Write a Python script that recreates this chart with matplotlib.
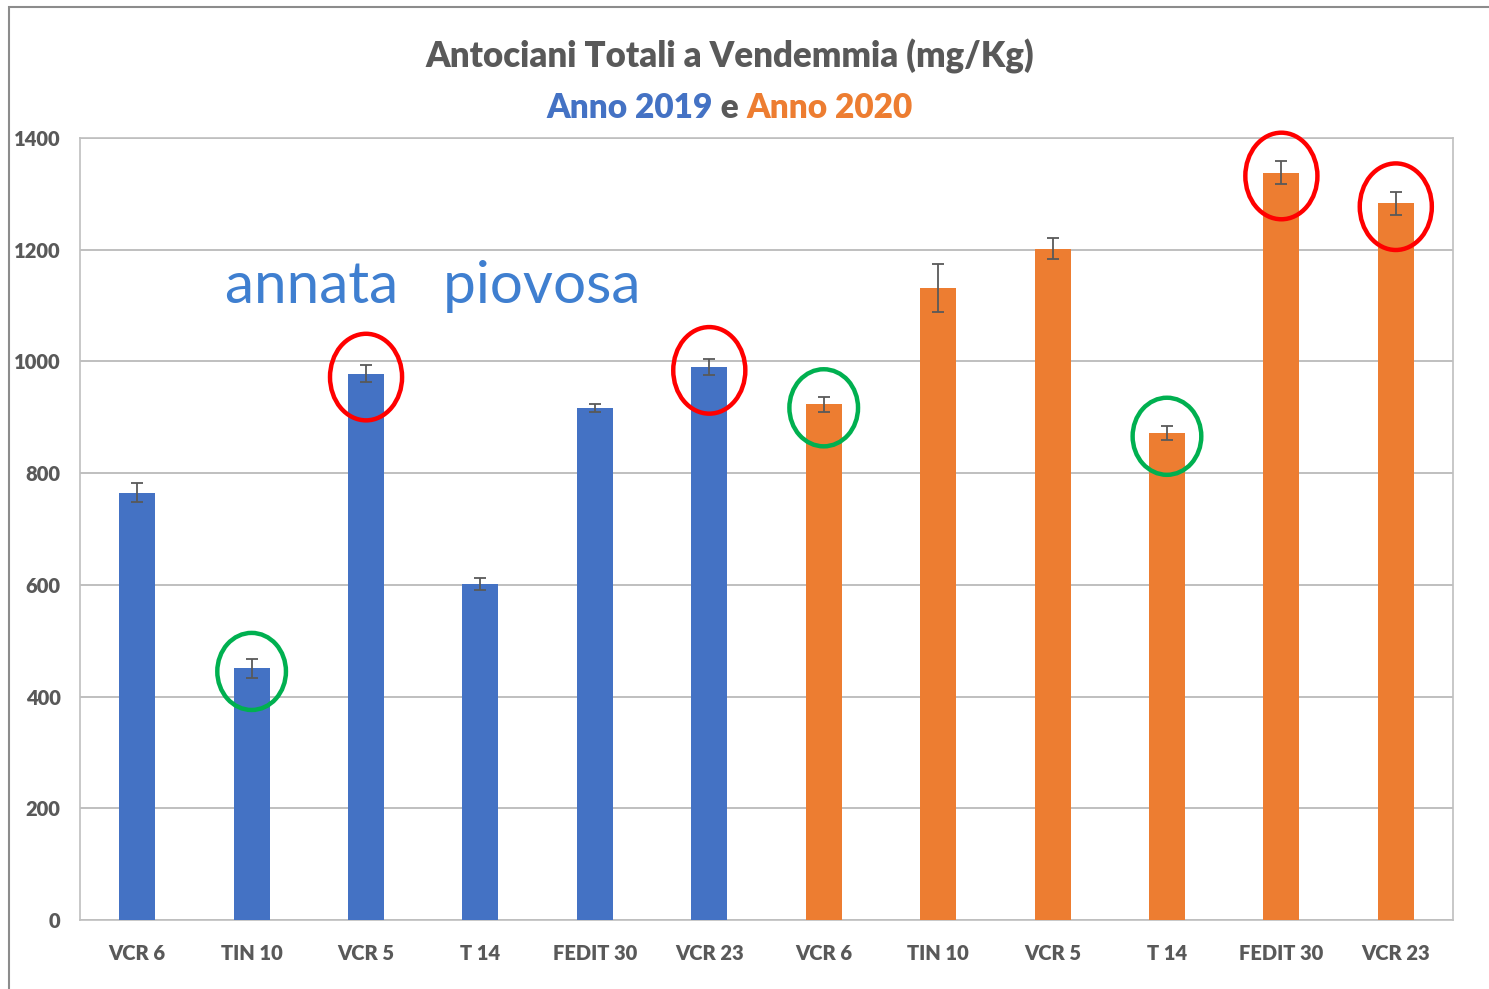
import matplotlib
matplotlib.use("Agg")
import matplotlib.pyplot as plt
from matplotlib.patches import Ellipse, Rectangle
import numpy as np

plt.rcParams['font.family'] = ['Lato', 'DejaVu Sans']

categories = ["VCR 6", "TIN 10", "VCR 5", "T 14", "FEDIT 30", "VCR 23",
              "VCR 6", "TIN 10", "VCR 5", "T 14", "FEDIT 30", "VCR 23"]
values_2019 = [765, 451, 978, 601, 917, 990]
errors_2019 = [17, 17, 15, 11, 7, 15]
values_2020 = [923, 1132, 1202, 872, 1338, 1283]
errors_2020 = [13, 43, 19, 12, 20, 20]
yticks = [0, 200, 400, 600, 800, 1000, 1200, 1400]
# highlighted bars (index, colour)
highlights = [(1, "green"), (2, "red"), (5, "red"), (6, "green"),
              (9, "green"), (10, "red"), (11, "red")]

BLUE = "#4472C4"
ORANGE = "#ED7D31"
TXT = "#595959"
GRID = "#BFBFBF"
HL = {"red": "#FF0000", "green": "#00B050"}

W, H = 1489, 989
fig = plt.figure(figsize=(W / 100, H / 100), dpi=100)
ax = fig.add_axes([80 / W, 1 - 920 / H, (1453 - 80) / W, (920 - 138) / H])

values = values_2019 + values_2020
errors = errors_2019 + errors_2020
colors = [BLUE] * len(values_2019) + [ORANGE] * len(values_2020)
x = np.arange(len(categories))

ax.bar(x, values, width=0.315, color=colors, zorder=3)
ax.errorbar(x, values, yerr=errors, fmt='none', ecolor="#595959",
            elinewidth=1.3, capsize=4, capthick=1.3, zorder=4)

ax.set_xlim(-0.5, len(categories) - 0.5)
ax.set_ylim(0, 1400)
ax.set_yticks(yticks)
ax.set_xticks(x)
ax.set_xticklabels(categories)
ax.grid(axis='y', color=GRID, linewidth=1.4, zorder=0)
ax.tick_params(axis='both', length=0, labelsize=14.5, labelcolor=TXT)
ax.tick_params(axis='x', pad=17)
ax.tick_params(axis='y', pad=14)
for lab in ax.get_xticklabels() + ax.get_yticklabels():
    lab.set_fontweight('heavy')
for s in ax.spines.values():
    s.set_color(GRID)
    s.set_linewidth(1.2)

# highlight ellipses
for idx, c in highlights:
    big = c == "red"
    w = 0.63 if big else 0.6
    h = 155 if big else 138
    ax.add_patch(Ellipse((idx, values[idx] - 6), w, h, fill=False,
                         edgecolor=HL[c], linewidth=3.2, zorder=5,
                         clip_on=False))

ax.text(2.58, 1104, "annata   piovosa", color="#3F7FD0", fontsize=42,
        ha='center', va='baseline', zorder=6)

# titles
fig.text(730 / W, 1 - 68 / H, "Antociani Totali a Vendemmia (mg/Kg)",
         ha='center', va='baseline', fontsize=25, fontweight='heavy', color=TXT)

parts = [("Anno 2019", BLUE), (" e ", TXT), ("Anno 2020", ORANGE)]
renderer = fig.canvas.get_renderer()
texts = []
for s, c in parts:
    t = fig.text(0, 1 - 118 / H, s, ha='left', va='baseline', fontsize=24,
                 fontweight='heavy', color=c)
    texts.append(t)
widths = [t.get_window_extent(renderer).width for t in texts]
total = sum(widths)
xpos = 730 - total / 2
for t, wd in zip(texts, widths):
    t.set_x(xpos / W)
    xpos += wd

# outer frame
fig.patches.append(Rectangle((9 / W, -0.01), 1.02, 1 - 7 / H + 0.01,
                             transform=fig.transFigure, fill=False,
                             edgecolor="#8C8C8C", linewidth=1.5))

fig.savefig("out.png", dpi=100)
